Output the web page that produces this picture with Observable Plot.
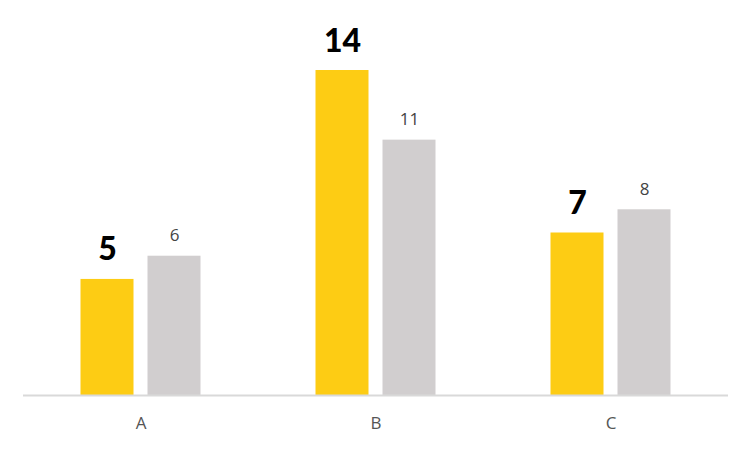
<!DOCTYPE html>
<html>
<head>
<meta charset="utf-8">
<script src="https://cdn.jsdelivr.net/npm/d3@7"></script>
<script src="https://cdn.jsdelivr.net/npm/@observablehq/plot@0.6"></script>
<style>
  html, body { margin: 0; padding: 0; background: #fff; }
  #chart svg { display: block; }
</style>
</head>
<body>
<div id="chart"></div>
<script>
const categories = ["A", "B", "C"];
const seriesNames = ["primary", "secondary"];
const primaryValues = [5, 14, 7];
const secondaryValues = [6, 11, 8];
const colors = ["#FDCC14", "#D1CECF"];

const rows = [];
categories.forEach((c, i) => {
  rows.push({cat: c, series: seriesNames[0], value: primaryValues[i]});
  rows.push({cat: c, series: seriesNames[1], value: secondaryValues[i]});
});
const primaryRows = rows.filter(d => d.series === seriesNames[0]);
const secondaryRows = rows.filter(d => d.series === seriesNames[1]);

const chart = Plot.plot({
  width: 750,
  height: 450,
  marginLeft: 22.5,
  marginRight: 22.5,
  marginTop: 70,
  marginBottom: 55,
  style: {background: "#fff", fontFamily: "'Open Sans', sans-serif"},
  fx: {domain: categories, padding: 0},
  x: {domain: seriesNames, paddingInner: 0.209, paddingOuter: 0.858, axis: null},
  y: {domain: [0, 14], axis: null},
  color: {domain: seriesNames, range: colors},
  marks: [
    Plot.barY(rows, {fx: "cat", x: "series", y: "value", fill: "series"}),
    Plot.ruleY([0], {stroke: "#D9D9D9", strokeWidth: 2}),
    Plot.text(primaryRows, {fx: "cat", x: "series", y: "value", text: d => String(d.value),
      lineAnchor: "bottom", dy: -19, fontSize: 32, fontWeight: 900, fill: "#000",
      fontFamily: "Lato, sans-serif"}),
    Plot.text(secondaryRows, {fx: "cat", x: "series", y: "value", text: d => String(d.value),
      lineAnchor: "bottom", dy: -15, fontSize: 17, fill: "#444"}),
    Plot.axisFx({anchor: "bottom", tickSize: 0, tickPadding: 21, fontSize: 17, color: "#555", label: null})
  ]
});
document.getElementById("chart").append(chart);
</script>
</body>
</html>
